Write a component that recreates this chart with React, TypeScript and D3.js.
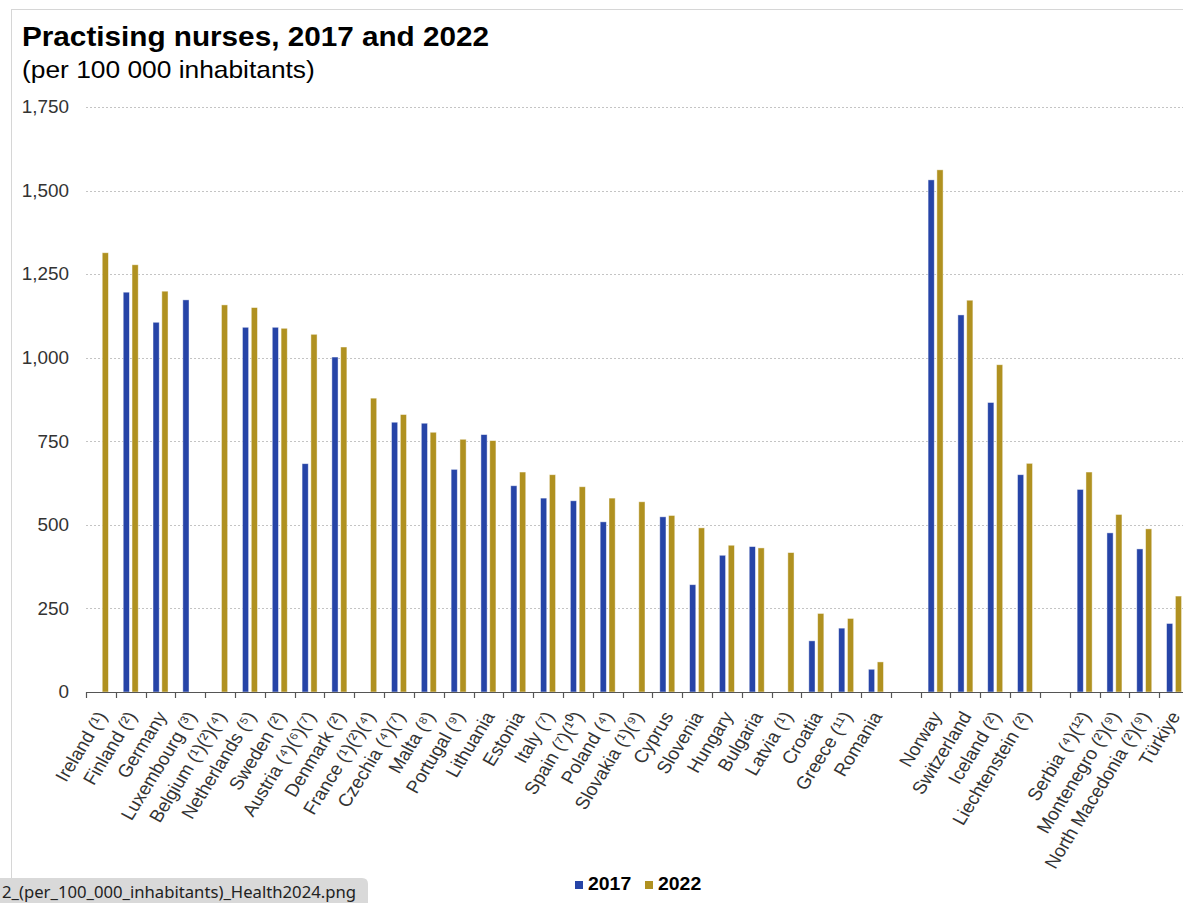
import React from "react";
import * as d3 from "d3";

const categories = [
  "Ireland (¹)", "Finland (²)", "Germany", "Luxembourg (³)", "Belgium (¹)(²)(⁴)",
  "Netherlands (⁵)", "Sweden (²)", "Austria (⁴)(⁶)(⁷)", "Denmark (²)", "France (¹)(²)(⁴)",
  "Czechia (⁴)(⁷)", "Malta (⁸)", "Portugal (⁹)", "Lithuania", "Estonia", "Italy (⁷)",
  "Spain (⁷)(¹⁰)", "Poland (⁴)", "Slovakia (¹)(⁹)", "Cyprus", "Slovenia", "Hungary",
  "Bulgaria", "Latvia (¹)", "Croatia", "Greece (¹¹)", "Romania", "",
  "Norway", "Switzerland", "Iceland (²)", "Liechtenstein (²)", "",
  "Serbia (⁴)(¹²)", "Montenegro (²)(⁹)", "North Macedonia (²)(⁹)", "Türkiye",
];

const values2017: (number | null)[] = [
  null, 1196, 1106, 1173, null, 1091, 1091, 683, 1002, null,
  807, 804, 666, 770, 617, 580, 572, 509, null, 524, 321, 409,
  435, null, 153, 191, 68, null,
  1532, 1128, 866, 650, null,
  606, 476, 428, 205,
];

const values2022: (number | null)[] = [
  1314, 1278, 1199, null, 1158, 1150, 1088, 1070, 1032, 879,
  830, 777, 756, 752, 658, 650, 614, 580, 569, 528, 491, 439,
  431, 417, 235, 220, 90, null,
  1562, 1172, 979, 684, null,
  658, 531, 488, 287,
];

const seriesNames = ["2017", "2022"];
const seriesColors = ["#2644a7", "#b09120"];
const yTicks = [0, 250, 500, 750, 1000, 1250, 1500, 1750];

const W = 1183;
const H = 903;
const SX = 1.08;
const FONT = "'Liberation Sans', Arial, sans-serif";

export default function App() {
  const plotLeft = 86;
  const step = 29.81;
  const plotRight = plotLeft + categories.length * step;
  const y0 = 692;
  const yTop = 107;

  const x = d3
    .scaleBand<number>()
    .domain(d3.range(categories.length))
    .range([plotLeft, plotRight])
    .padding(0);
  const x1 = d3.scaleBand<string>().domain(seriesNames).range([-7.5, 7.5]).paddingInner(0.3);
  const y = d3.scaleLinear().domain([0, 1750]).range([y0, yTop]);

  const st = (tx: number, ty: number, rot = 0) =>
    `translate(${tx},${ty}) scale(${SX},1)` + (rot ? ` rotate(${rot})` : "");

  const series = [values2017, values2022];
  const fmt = d3.format(",");

  return (
    <div style={{ position: "absolute", left: 0, top: 0 }}>
      <svg width={W} height={H} style={{ display: "block", background: "#fff" }}>
        {/* frame */}
        <line x1={11.5} x2={11.5} y1={9} y2={H} stroke="#d6d6d6" />
        <line x1={11} x2={W} y1={9.5} y2={9.5} stroke="#d6d6d6" />

        {/* title */}
        <text transform={st(22, 46)} fontFamily={FONT} fontSize={27.5} fontWeight="bold" fill="#000">
          Practising nurses, 2017 and 2022
        </text>
        <text transform={st(22, 78)} fontFamily={FONT} fontSize={24.4} fill="#000">
          (per 100 000 inhabitants)
        </text>

        {/* gridlines and y labels */}
        {yTicks.map((t) => (
          <g key={t}>
            {t > 0 && (
              <line
                x1={plotLeft}
                x2={W}
                y1={Math.round(y(t)) + 0.5}
                y2={Math.round(y(t)) + 0.5}
                stroke="#c4c4c4"
                strokeDasharray="2,2"
              />
            )}
            <text
              transform={st(69, y(t))}
              dy="0.36em"
              textAnchor="end"
              fontFamily={FONT}
              fontSize={17.5}
              fill="#333"
            >
              {fmt(t)}
            </text>
          </g>
        ))}

        {/* bars */}
        {series.map((vals, si) =>
          vals.map((v, i) =>
            v == null ? null : (
              <rect
                key={`${si}-${i}`}
                x={(x(i) as number) + x.bandwidth() / 2 + (x1(seriesNames[si]) as number)}
                y={y(v)}
                width={x1.bandwidth()}
                height={y0 - y(v)}
                fill={seriesColors[si]}
                stroke="#ffffff"
                strokeOpacity={0.55}
                strokeWidth={0.8}
              />
            )
          )
        )}

        {/* x axis */}
        <line x1={plotLeft} x2={W} y1={y0 + 0.5} y2={y0 + 0.5} stroke="#555" strokeWidth={1.2} />
        {d3.range(categories.length + 1).map((i) => {
          const tx = Math.round(plotLeft + i * step) + 0.5;
          return <line key={i} x1={tx} x2={tx} y1={y0} y2={y0 + 6} stroke="#555" strokeWidth={1.2} />;
        })}
        {categories.map((c, i) =>
          c ? (
            <text
              key={i}
              transform={st((x(i) as number) + x.bandwidth() / 2 + 1, 713, -60)}
              dy="0.35em"
              textAnchor="end"
              fontFamily={FONT}
              fontSize={17.8}
              fill="#333"
            >
              {c}
            </text>
          ) : null
        )}

        {/* legend */}
        {seriesNames.map((s, i) => {
          const lx = i === 0 ? 575 : 645;
          return (
            <g key={s}>
              <rect x={lx} y={881} width={8} height={8} fill={seriesColors[i]} />
              <text transform={st(lx + 13, 890)} fontFamily={FONT} fontSize={18} fontWeight="bold" fill="#000">
                {s}
              </text>
            </g>
          );
        })}

        {/* file name tab */}
        <path d={`M0,878 H362 Q368,878 368,884 V${H} H0 Z`} fill="#d9d9d9" />
        <text x={2} y={898} fontFamily="'Noto Sans', 'Open Sans', sans-serif" fontSize={16} fill="#222" textLength={354} lengthAdjust="spacingAndGlyphs">
          2_(per_100_000_inhabitants)_Health2024.png
        </text>
      </svg>
    </div>
  );
}
